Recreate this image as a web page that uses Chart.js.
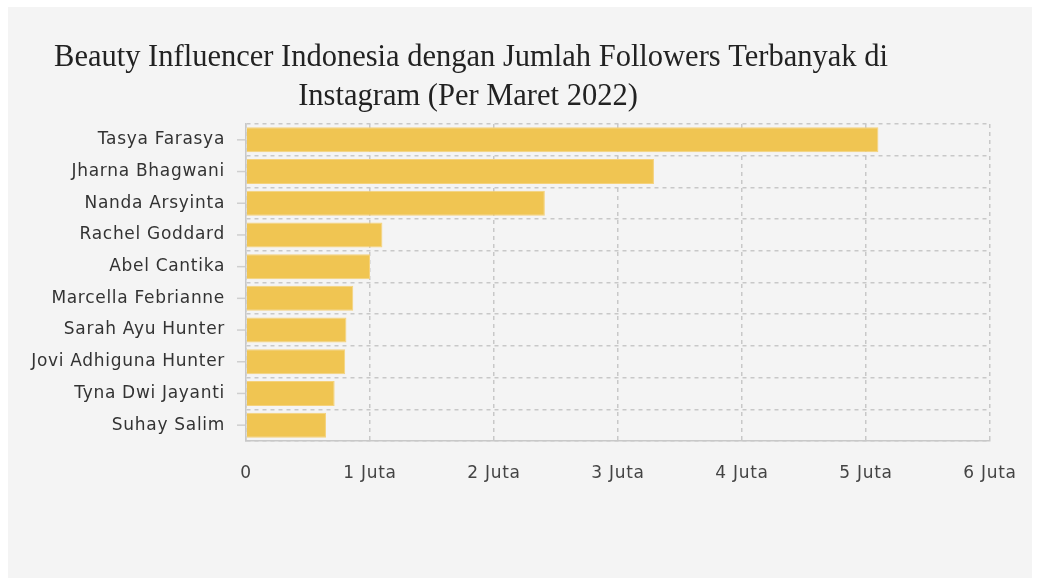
<!DOCTYPE html>
<html>
<head>
<meta charset="utf-8">
<script src="https://cdn.jsdelivr.net/npm/chart.js@4"></script>
<style>
  body { margin: 0; background: #ffffff; }
  #wrap { position: absolute; left: 8px; top: 7px; width: 1024px; height: 571px; background: #f4f4f4; }
</style>
</head>
<body>
<div id="wrap"><canvas id="chart"></canvas></div>
<script>
// data, in millions of followers
const influencers = ["Tasya Farasya", "Jharna Bhagwani", "Nanda Arsyinta", "Rachel Goddard", "Abel Cantika",
    "Marcella Febrianne", "Sarah Ayu Hunter", "Jovi Adhiguna Hunter", "Tyna Dwi Jayanti", "Suhay Salim"];
const followers = [5.1, 3.29, 2.41, 1.1, 1.0, 0.865, 0.81, 0.8, 0.715, 0.645];
const titleLines = ["Beauty Influencer Indonesia dengan Jumlah Followers Terbanyak di", "Instagram (Per Maret 2022)"];

const gridColor = "#c8c8c8";
const tickFont = { family: "'DejaVu Sans', Verdana, sans-serif", size: 17 };

// the original labels are Verdana, a bit wider than DejaVu -> add some tracking
const spacing = {
    id: 'spacing',
    beforeDraw(chart) { chart.ctx.letterSpacing = '0.7px'; }
};

// title drawn by hand so it can sit off-centre like the original
const titlePlugin = {
    id: 'manualTitle',
    afterDraw(chart) {
        const ctx = chart.ctx;
        ctx.save();
        ctx.letterSpacing = '0px';
        ctx.font = '30.5px "Liberation Serif", "Times New Roman", serif';
        ctx.fillStyle = '#222';
        ctx.textAlign = 'center';
        ctx.textBaseline = 'alphabetic';
        ctx.fillText(titleLines[0], 463, 59);
        ctx.fillText(titleLines[1], 460, 98);
        ctx.restore();
    }
};

// small tick marks next to each category label
const yTickMarks = {
    id: 'yTickMarks',
    afterDraw(chart) {
        const y = chart.scales.y;
        const ctx = chart.ctx;
        ctx.save();
        ctx.strokeStyle = '#cfcfcf';
        ctx.lineWidth = 1.5;
        influencers.forEach((_, i) => {
            const py = y.getPixelForValue(i);
            ctx.beginPath();
            ctx.moveTo(y.right - 9, py);
            ctx.lineTo(y.right - 1, py);
            ctx.stroke();
        });
        ctx.restore();
    }
};

new Chart(document.getElementById('chart'), {
    type: 'bar',
    data: {
        labels: influencers,
        datasets: [{
            data: followers,
            backgroundColor: '#f0c552',
            borderColor: '#f5d27c',
            borderWidth: 1,
            barPercentage: 0.79,
            categoryPercentage: 1
        }]
    },
    options: {
        indexAxis: 'y',
        responsive: true,
        maintainAspectRatio: false,
        animation: false,
        layout: { padding: { top: 117, right: 42, left: 0, bottom: 0 } },
        plugins: { legend: { display: false }, tooltip: { enabled: false } },
        scales: {
            x: {
                min: 0,
                max: 6,
                afterFit: (s) => { s.height = 137; s.paddingRight = 0; s.paddingLeft = 0; },
                ticks: {
                    stepSize: 1,
                    padding: 22,
                    color: '#444',
                    font: tickFont,
                    maxRotation: 0,
                    callback: (v) => v === 0 ? '0' : v + ' Juta'
                },
                grid: { color: gridColor, lineWidth: 1.5, drawTicks: false },
                border: { display: true, dash: [4, 4], color: gridColor, width: 1.5 }
            },
            y: {
                afterFit: (s) => { s.width = 238; },
                ticks: { padding: 21, color: '#333', font: tickFont },
                grid: { color: gridColor, lineWidth: 1.5, drawTicks: false, offset: true },
                border: { display: true, dash: [4, 4], color: gridColor, width: 1.5 }
            }
        }
    },
    plugins: [spacing, titlePlugin, yTickMarks]
});
</script>
</body>
</html>
